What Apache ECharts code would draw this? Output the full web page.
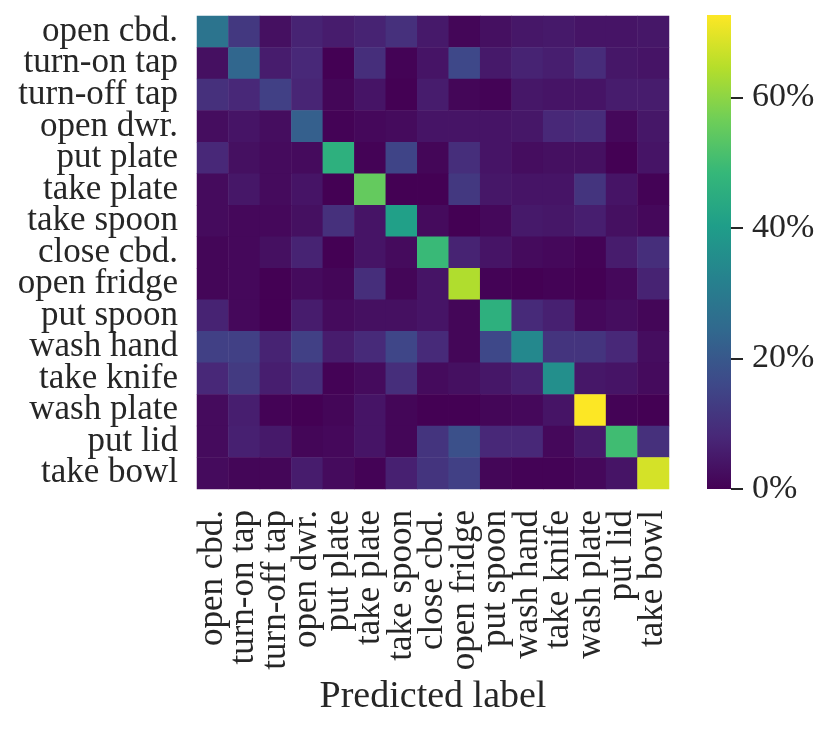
<!DOCTYPE html>
<html>
<head>
    <meta charset="utf-8">
    <title>Confusion matrix</title>
    <script src="https://cdn.jsdelivr.net/npm/echarts@6/dist/echarts.min.js"></script>
    <style>html, body { margin: 0; background: #fff; }</style>
</head>
<body>
    <div id="main" style="width: 831px;height:729px;"></div>
    <script type="text/javascript">
        // class names, same order on both axes
        var labels = ['open cbd.', 'turn-on tap', 'turn-off tap', 'open dwr.', 'put plate',
            'take plate', 'take spoon', 'close cbd.', 'open fridge', 'put spoon',
            'wash hand', 'take knife', 'wash plate', 'put lid', 'take bowl'];

        // confusion matrix in %, one row per true label
        var cm = [
            [28, 12, 3, 7, 5.5, 7, 10, 5, 1, 3, 4.5, 5, 4, 4, 4.5],
            [3, 24, 5.5, 8, 0, 9.5, 0.5, 4, 16, 5, 7, 6, 9, 4.5, 4],
            [10, 8, 14, 7.5, 1, 4, 0, 5.5, 1, 0.5, 4.5, 4, 4, 5.5, 5.5],
            [2.5, 4, 2.5, 22, 0.5, 1.5, 2, 4, 4, 4, 4.5, 8, 9, 1.5, 4.5],
            [8, 3, 2, 2, 46, 0.5, 15, 1, 9.5, 4, 2.5, 3, 3, 0, 4],
            [2, 4.5, 2, 4, 0, 55, 0, 0, 12, 4.5, 4, 4, 11, 4, 0.5],
            [2, 1.5, 1.5, 3, 10, 4, 41, 2, 0, 1.5, 5, 4.5, 6, 3, 1.5],
            [1, 1.5, 3, 7, 0, 4, 2, 49, 7, 4, 2, 1.5, 0.5, 5.5, 9.5],
            [1, 1.5, 0, 2, 1, 9.5, 1, 4, 64, 0.5, 0, 0.5, 0, 1.5, 7],
            [7, 1.5, 0, 5.5, 2, 3, 3, 4, 1, 46, 8.5, 6.5, 1.5, 2.5, 1],
            [14, 14, 7, 14, 5.5, 8.5, 15.5, 8.5, 1, 16, 34, 11, 11, 8, 2.5],
            [8, 12.5, 6, 9.5, 0.5, 2, 9.5, 2, 3, 4.5, 6.5, 36, 4.5, 4, 2],
            [2, 6, 0.5, 0, 1, 4, 1, 0, 0, 1, 1.5, 4, 72.5, 0.5, 0],
            [2, 6.5, 5, 1, 1.5, 4, 1, 11, 18, 8, 8, 1.5, 5, 50, 10],
            [2, 1, 1, 5.5, 2, 0.5, 6.5, 11, 14, 1, 0.5, 0.5, 1.5, 4, 68]
        ];

        var vmax = 72.6;              // top of the colour bar
        var cbTicks = [0, 20, 40, 60]; // colour bar tick values
        var viridis = ['#440154', '#482878', '#3e4989', '#31688e', '#26828e',
            '#1f9e89', '#35b779', '#6ece58', '#b5de2b', '#fde725'];

        var data = [];
        for (var i = 0; i < cm.length; i++) {
            for (var j = 0; j < cm[i].length; j++) {
                data.push([j, i, cm[i][j]]);
            }
        }

        var font = 'Liberation Serif';
        var ink = '#262626';

        var myChart = echarts.init(document.getElementById('main'));
        option = {
            backgroundColor: '#fff',
            animation: false,
            grid: [
                { left: 197, top: 16, width: 472, height: 473 },
                { left: 707, top: 15, width: 24, height: 474 }
            ],
            xAxis: [{
                type: 'category',
                data: labels,
                gridIndex: 0,
                axisLine: { show: false },
                axisTick: { show: false },
                splitLine: { show: false },
                axisLabel: { interval: 0, rotate: 90, margin: 21, fontFamily: font, fontSize: 35, color: ink },
                name: 'Predicted label',
                nameLocation: 'middle',
                nameGap: 186,
                nameTextStyle: { fontFamily: font, fontSize: 38, color: ink }
            }, {
                type: 'category',
                data: ['cb'],
                gridIndex: 1,
                show: false
            }],
            yAxis: [{
                type: 'category',
                data: labels,
                inverse: true,
                gridIndex: 0,
                axisLine: { show: false },
                axisTick: { show: false },
                splitLine: { show: false },
                axisLabel: { interval: 0, margin: 19, fontFamily: font, fontSize: 35, color: ink }
            }, {
                type: 'value',
                gridIndex: 1,
                position: 'right',
                min: 0,
                max: vmax,
                interval: 20,
                axisLine: { show: false },
                splitLine: { show: false },
                axisTick: { show: true, length: 12, customValues: cbTicks,
                    lineStyle: { color: ink, width: 2 } },
                axisLabel: { margin: 21, customValues: cbTicks, fontFamily: font, fontSize: 34, color: ink,
                    formatter: '{value}%' }
            }],
            visualMap: {
                type: 'continuous',
                show: false,
                min: 0,
                max: vmax,
                seriesIndex: 0,
                inRange: { color: viridis }
            },
            series: [{
                type: 'heatmap',
                xAxisIndex: 0,
                yAxisIndex: 0,
                data: data,
                emphasis: { disabled: true }
            }, {
                type: 'bar',
                xAxisIndex: 1,
                yAxisIndex: 1,
                barWidth: '100%',
                data: [vmax],
                silent: true,
                itemStyle: {
                    color: {
                        type: 'linear', x: 0, y: 1, x2: 0, y2: 0,
                        colorStops: viridis.map(function (c, k) {
                            return { offset: k / (viridis.length - 1), color: c };
                        })
                    }
                }
            }]
        };
        myChart.setOption(option);
    </script>
</body>
</html>
